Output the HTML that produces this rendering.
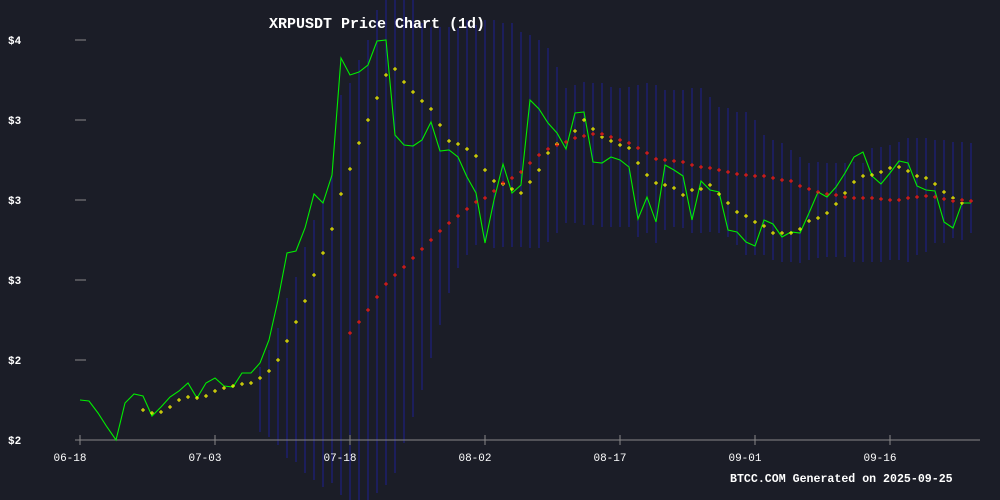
<!DOCTYPE html>
<html><head><meta charset="utf-8"><style>
html,body{margin:0;padding:0;background:#1b1d27;}
svg{display:block;font-family:"Liberation Mono",monospace;}
</style></head><body>
<svg id="chart" width="1000" height="500" viewBox="0 0 1000 500" xmlns="http://www.w3.org/2000/svg">
<rect x="0" y="0" width="1000" height="500" fill="#1b1d27"/>
<g id="bands"></g>
<g id="axes"></g>
<polyline id="closeLine" fill="none" stroke="#00ee00" stroke-width="1.1"/>
<g id="maShort"></g>
<g id="maLong"></g>
<text x="377" y="28" fill="#ffffff" font-size="15" font-weight="bold" text-anchor="middle">XRPUSDT Price Chart (1d)</text>
<text x="730" y="482" fill="#ffffff" font-size="11.6" font-weight="bold">BTCC.COM Generated on 2025-09-25</text>
</svg>
<script>
const closes=[2.200,2.195,2.135,2.065,2.000,2.185,2.230,2.220,2.120,2.165,2.215,2.245,2.285,2.210,2.285,2.310,2.270,2.265,2.335,2.335,2.385,2.500,2.700,2.935,2.945,3.060,3.230,3.185,3.325,3.910,3.825,3.840,3.875,3.995,4.000,3.525,3.475,3.470,3.500,3.590,3.445,3.450,3.415,3.315,3.235,2.985,3.200,3.380,3.235,3.275,3.700,3.655,3.585,3.535,3.455,3.635,3.640,3.390,3.385,3.415,3.400,3.365,3.105,3.215,3.090,3.375,3.350,3.320,3.100,3.295,3.250,3.240,3.050,3.040,2.990,2.970,3.100,3.080,3.015,3.040,3.035,3.135,3.240,3.215,3.265,3.335,3.415,3.440,3.320,3.280,3.335,3.395,3.385,3.270,3.250,3.245,3.090,3.060,3.185,3.185];
const shortStart=7;
const shortMA=[2.150,2.135,2.140,2.165,2.200,2.215,2.210,2.220,2.245,2.260,2.270,2.280,2.285,2.310,2.345,2.400,2.495,2.590,2.695,2.825,2.935,3.055,3.230,3.355,3.485,3.600,3.710,3.825,3.855,3.790,3.740,3.695,3.655,3.575,3.495,3.480,3.455,3.420,3.350,3.295,3.280,3.255,3.235,3.290,3.350,3.435,3.480,3.490,3.545,3.600,3.555,3.515,3.495,3.475,3.460,3.385,3.325,3.285,3.275,3.260,3.225,3.250,3.255,3.275,3.230,3.185,3.140,3.120,3.090,3.070,3.035,3.035,3.035,3.055,3.095,3.110,3.135,3.180,3.235,3.290,3.320,3.325,3.340,3.360,3.365,3.345,3.320,3.310,3.280,3.240,3.210,3.185];
const longStart=30;
const longMA=[2.535,2.590,2.650,2.715,2.780,2.825,2.865,2.910,2.955,3.000,3.045,3.085,3.120,3.155,3.190,3.210,3.245,3.285,3.310,3.340,3.385,3.425,3.455,3.475,3.490,3.510,3.520,3.530,3.530,3.515,3.500,3.485,3.460,3.435,3.405,3.400,3.395,3.390,3.375,3.365,3.360,3.350,3.340,3.330,3.325,3.320,3.320,3.310,3.300,3.295,3.270,3.255,3.240,3.230,3.225,3.215,3.210,3.210,3.210,3.205,3.200,3.200,3.210,3.215,3.220,3.215,3.205,3.195,3.200,3.195];
const bandStart=20;
const bandUpper=[2.365,2.450,2.560,2.710,2.815,2.965,3.100,3.200,3.335,3.725,3.785,3.900,4.000,4.150,4.3,4.3,4.3,4.3,4.085,4.065,4.065,4.065,4.060,4.100,4.075,4.100,4.100,4.085,4.085,4.040,4.025,4.000,3.960,3.865,3.760,3.775,3.790,3.785,3.785,3.765,3.760,3.765,3.775,3.785,3.775,3.750,3.750,3.750,3.760,3.760,3.715,3.665,3.660,3.640,3.640,3.600,3.525,3.500,3.485,3.450,3.415,3.385,3.390,3.385,3.385,3.385,3.390,3.385,3.460,3.465,3.475,3.490,3.510,3.510,3.510,3.500,3.500,3.490,3.490,3.485];
const bandLower=[2.040,2.015,1.975,1.910,1.890,1.835,1.800,1.765,1.785,1.725,1.650,1.650,1.650,1.735,1.775,1.835,1.985,2.115,2.250,2.410,2.575,2.735,2.860,2.925,2.975,2.985,2.960,2.965,2.965,2.965,2.960,2.960,2.990,3.035,3.085,3.085,3.075,3.075,3.065,3.065,3.065,3.065,3.015,3.035,2.985,3.050,3.065,3.060,3.035,3.035,3.040,3.035,3.015,2.975,2.925,2.925,2.925,2.900,2.890,2.890,2.885,2.900,2.910,2.915,2.915,2.915,2.890,2.890,2.890,2.890,2.900,2.900,2.890,2.925,2.940,2.985,2.985,3.010,3.000,3.035];
const yTickValues=[2.0,2.4,2.8,3.2,3.6,4.0];
const yTickLabels=["$2","$2","$3","$3","$3","$4"];
const xTickIndex=[0,15,30,45,60,75,90];
const xTickLabels=["06-18","07-03","07-18","08-02","08-17","09-01","09-16"];

const NS="http://www.w3.org/2000/svg";
function xPos(i){return 80+i*9;}
function yPos(v){return 440-(v-2.0)*200;}
function mk(tag,attrs,parent){const e=document.createElementNS(NS,tag);for(const k in attrs)e.setAttribute(k,attrs[k]);parent.appendChild(e);return e;}

const axes=document.getElementById('axes');
const xl=mk('line',{x1:75,y1:440,x2:980,y2:440,stroke:'#888',"stroke-width":1},axes);


yTickValues.forEach((v,k)=>{
  const t=mk('line',{x1:75,y1:yPos(v),x2:86,y2:yPos(v),stroke:'#888',"stroke-width":1},axes);
  
  
  const l=mk('text',{x:8,y:yPos(v)+4,fill:'#fff',"font-size":11,"font-weight":"bold"},axes);
  
  
  l.textContent=yTickLabels[k];
});
xTickIndex.forEach((i,k)=>{
  const t=mk('line',{x1:xPos(i),y1:435,x2:xPos(i),y2:445,stroke:'#888',"stroke-width":1},axes);
  
  
  const l=mk('text',{x:xPos(i)-10,y:461,fill:'#fff',"font-size":11,"text-anchor":"middle"},axes);
  
  
  l.textContent=xTickLabels[k];
});

const bands=document.getElementById('bands');
bandUpper.forEach((u,k)=>{
  const i=bandStart+k;
  const b=mk('line',{x1:xPos(i),y1:yPos(u),x2:xPos(i),y2:yPos(bandLower[k]),stroke:'#1e1e90',"stroke-width":1.4,"shape-rendering":"crispEdges"},bands);
  
  
});

document.getElementById('closeLine').setAttribute('points',closes.map((v,i)=>xPos(i)+','+yPos(v)).join(' '));

function cross(parent,x,y,color,name){
  const p=mk('path',{d:`M${x-2},${y}H${x+2}M${x},${y-2}V${y+2}`,stroke:color,"stroke-width":1},parent);
  
  
}
const gs=document.getElementById('maShort');
shortMA.forEach((v,k)=>cross(gs,xPos(shortStart+k),yPos(v),'#ffff00','short-ma-point'));
const gl=document.getElementById('maLong');
longMA.forEach((v,k)=>cross(gl,xPos(longStart+k),yPos(v),'#ff1a1a','long-ma-point'));
</script>
</body></html>
